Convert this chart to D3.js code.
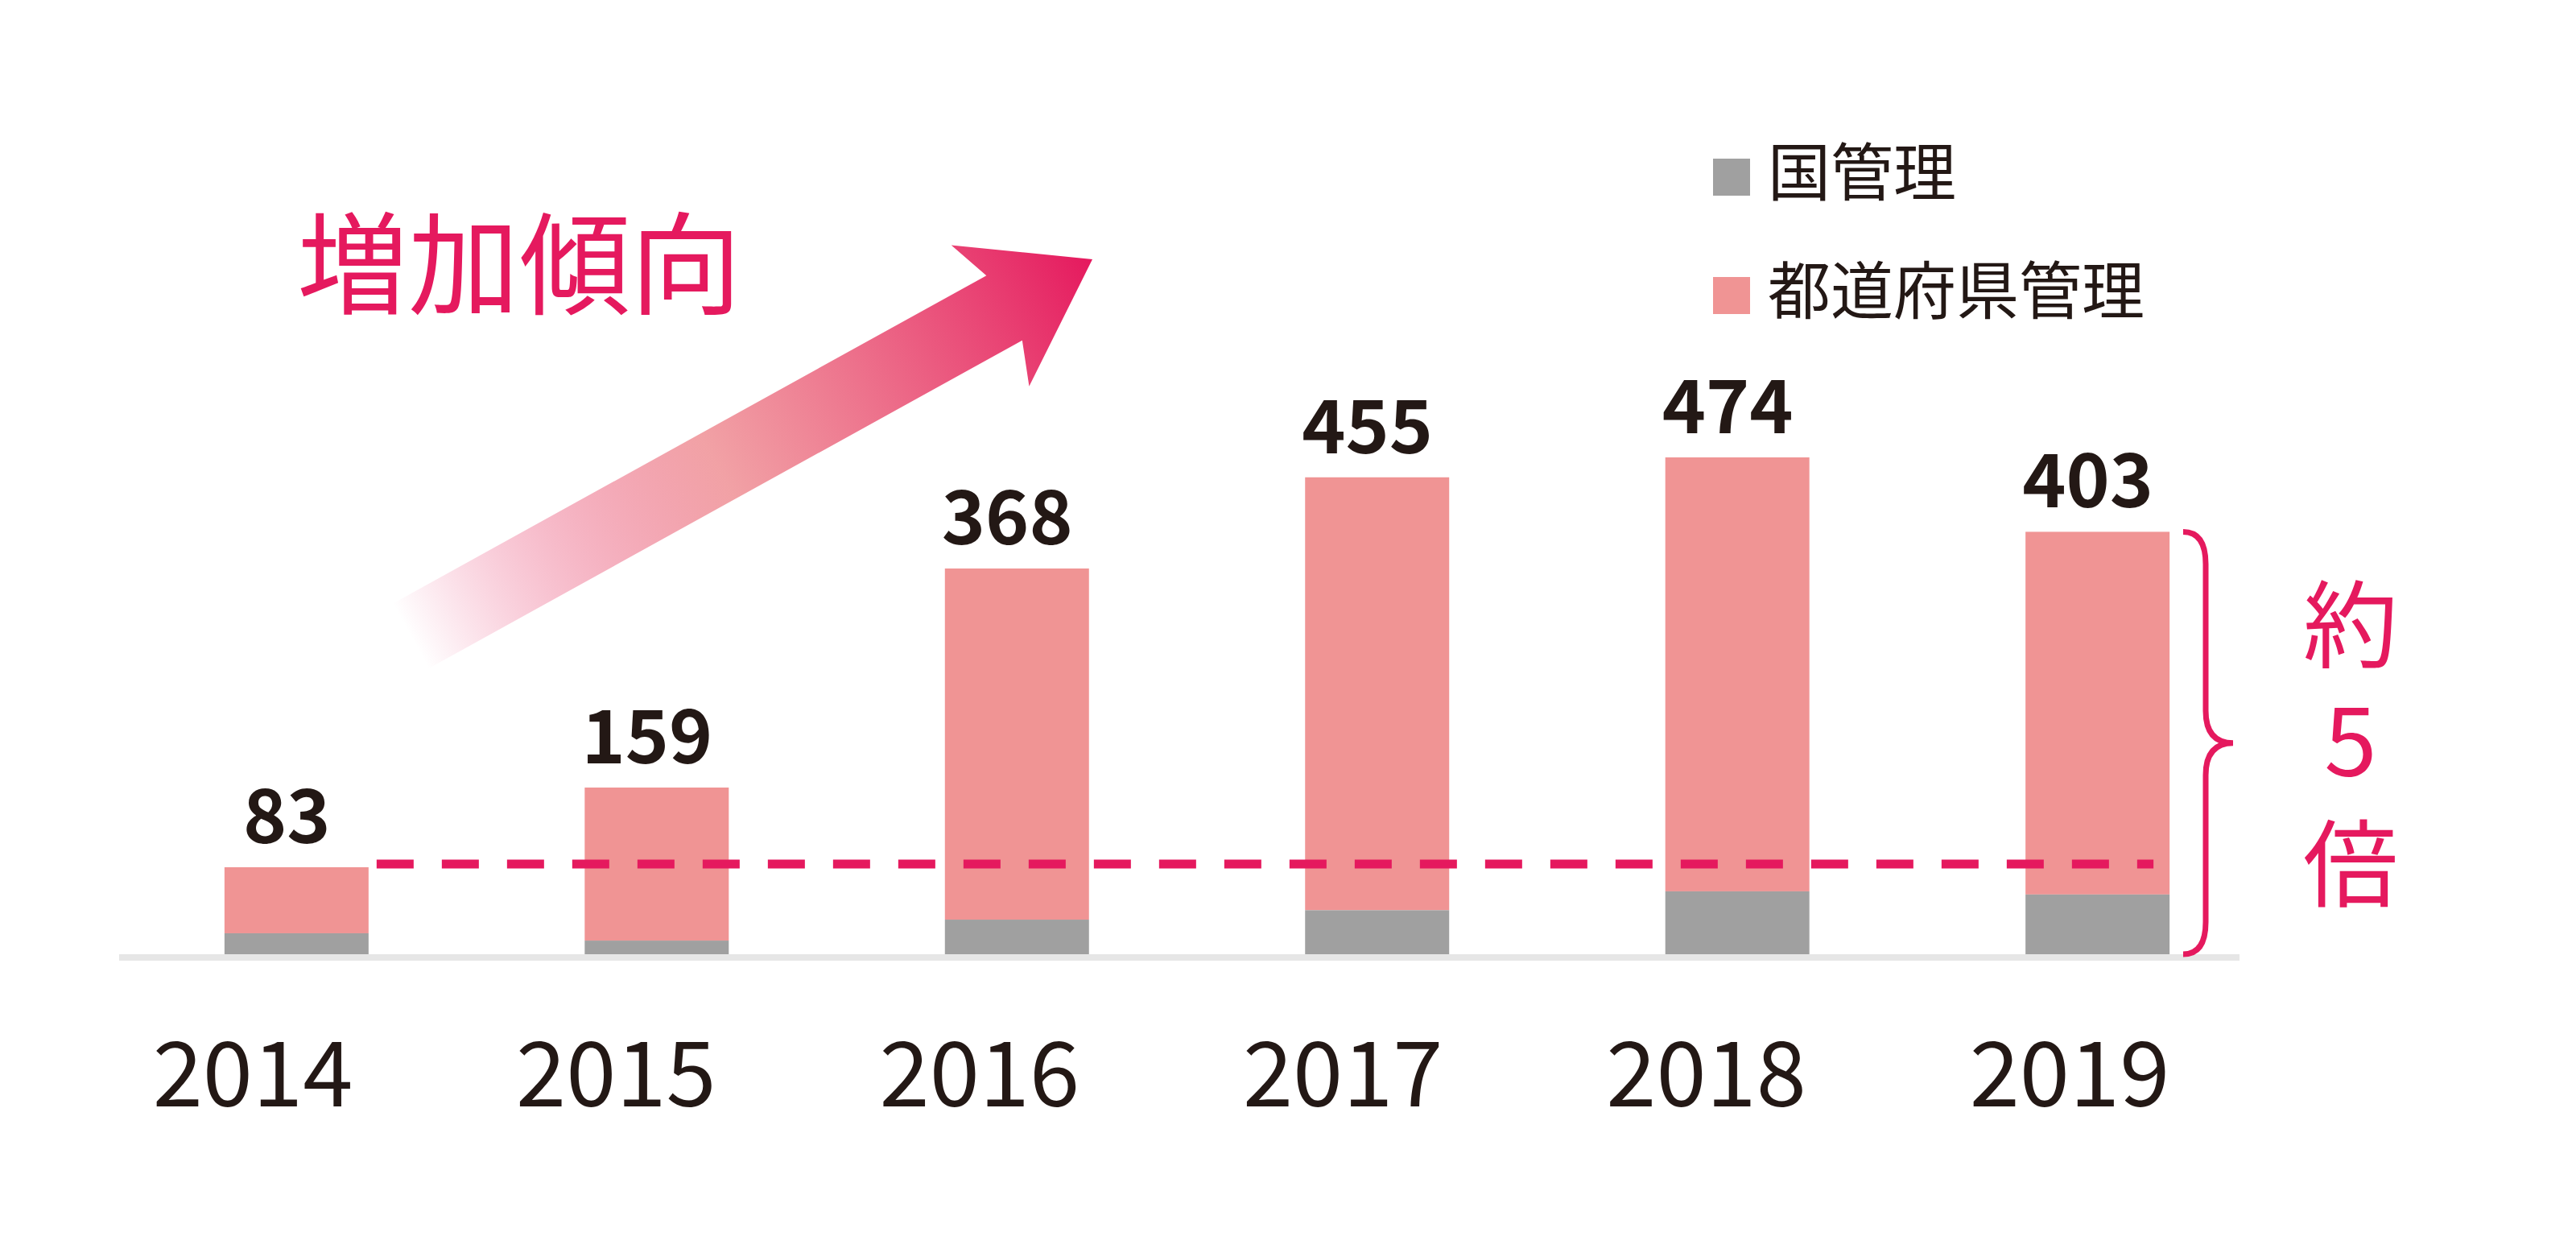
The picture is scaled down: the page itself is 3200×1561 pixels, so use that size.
<!DOCTYPE html>
<html><head><meta charset="utf-8">
<script src="https://cdn.jsdelivr.net/npm/d3@7"></script>
<style>body{margin:0;background:#fff}svg{display:block}</style>
</head><body>
<svg id="chart" width="3200" height="1561"></svg>
<script>
const years = ["2014", "2015", "2016", "2017", "2018", "2019"];
const totals = [83, 159, 368, 455, 474, 403];
const national = [20, 13, 33, 42, 60, 57];
const seriesNames = ["国管理", "都道府県管理"];
const colors = ["#a0a0a0", "#f09494"];
const accent = "#e5195e";
const font = "'Noto Sans CJK JP', 'Noto Sans', sans-serif";

const svg = d3.select("#chart");
const base = 1185;

const x = d3.scaleBand().domain(years).range([167, 2807]).paddingInner(0.6).paddingOuter(0.25);
const xLab = d3.scalePoint().domain(years).range([314, 2571]);
const y = d3.scaleLinear().domain([0, 474]).range([base, 568]);

// axis line
svg.append("line").attr("x1", 148).attr("x2", 2782).attr("y1", base + 4).attr("y2", base + 4)
  .attr("stroke", "#e6e6e6").attr("stroke-width", 8);

const data = years.map((yr, i) => ({ yr, total: totals[i], nat: national[i] }));

// prefecture (top) part
svg.selectAll(".pref").data(data).join("rect")
  .attr("x", d => x(d.yr)).attr("width", x.bandwidth())
  .attr("y", d => y(d.total)).attr("height", d => y(d.nat) - y(d.total))
  .attr("fill", colors[1]);
// national part
svg.selectAll(".nat").data(data).join("rect")
  .attr("x", d => x(d.yr)).attr("width", x.bandwidth())
  .attr("y", d => y(d.nat)).attr("height", d => base - y(d.nat))
  .attr("fill", colors[0]);

// value labels
svg.selectAll(".val").data(data).join("text")
  .attr("x", d => x(d.yr) + x.bandwidth() / 2 - 12).attr("y", d => y(d.total) - 30)
  .attr("text-anchor", "middle").attr("font-family", font).attr("font-weight", 700)
  .attr("font-size", 92).attr("fill", "#231815").text(d => d.total);

// year labels
svg.selectAll(".yr").data(years).join("text")
  .attr("x", d => xLab(d)).attr("y", 1374)
  .attr("text-anchor", "middle").attr("font-family", font)
  .attr("font-size", 112).attr("fill", "#231815").text(d => d);

// dashed reference line at 2014 level
svg.append("line").attr("x1", x("2014") + x.bandwidth() + 10).attr("x2", x("2019") + x.bandwidth() - 20)
  .attr("y1", y(totals[0]) - 4).attr("y2", y(totals[0]) - 4)
  .attr("stroke", accent).attr("stroke-width", 11).attr("stroke-dasharray", "46 35");

// brace
const bx = 2712, bTop = y(totals[5]), bBot = base, bMid = (bTop + bBot) / 2;
svg.append("path").attr("fill", "none").attr("stroke", accent).attr("stroke-width", 7)
  .attr("d", `M${bx},${bTop} Q${bx + 28},${bTop} ${bx + 28},${bTop + 40} L${bx + 28},${bMid - 40}
    Q${bx + 28},${bMid} ${bx + 62},${bMid} Q${bx + 28},${bMid} ${bx + 28},${bMid + 40}
    L${bx + 28},${bBot - 40} Q${bx + 28},${bBot} ${bx},${bBot}`);

[["約", 820], ["5", 963], ["倍", 1117]].forEach(([t, yy]) => {
  svg.append("text").attr("x", 2920).attr("y", yy).attr("text-anchor", "middle")
    .attr("font-family", font).attr("font-size", 118).attr("fill", accent).text(t);
});

// legend
const legY = [197, 344];
seriesNames.forEach((n, i) => {
  svg.append("rect").attr("x", 2128).attr("y", legY[i]).attr("width", 46).attr("height", 46).attr("fill", colors[i]);
  svg.append("text").attr("x", 2196).attr("y", legY[i] + 46).attr("font-family", font)
    .attr("font-size", 78).attr("fill", "#231815").text(n);
});

// trend title and arrow
svg.append("text").attr("x", 369).attr("y", 379).attr("font-family", font)
  .attr("font-size", 138).attr("fill", accent).text("増加傾向");

const x0 = 510, y0 = 790, x1 = 1357, y1 = 322;
const ang = Math.atan2(y1 - y0, x1 - x0) * 180 / Math.PI;
const len = Math.hypot(x1 - x0, y1 - y0);
const grad = svg.append("defs").append("linearGradient").attr("id", "ag")
  .attr("x1", 0).attr("x2", 1).attr("y1", 0).attr("y2", 0);
grad.append("stop").attr("offset", 0).attr("stop-color", accent).attr("stop-opacity", 0);
grad.append("stop").attr("offset", 0.45).attr("stop-color", "#ee8a8f").attr("stop-opacity", 0.8);
grad.append("stop").attr("offset", 1).attr("stop-color", accent);
const hw = 46, hl = 125, hh = 100;
svg.append("path").attr("fill", "url(#ag)")
  .attr("transform", `translate(${x0},${y0}) rotate(${ang})`)
  .attr("d", `M0,${-hw} L${len - hl},${-hw} L${len - hl - 20},${-hh} L${len},0 L${len - hl - 20},${hh} L${len - hl},${hw} L0,${hw} Z`);
</script>
</body></html>
